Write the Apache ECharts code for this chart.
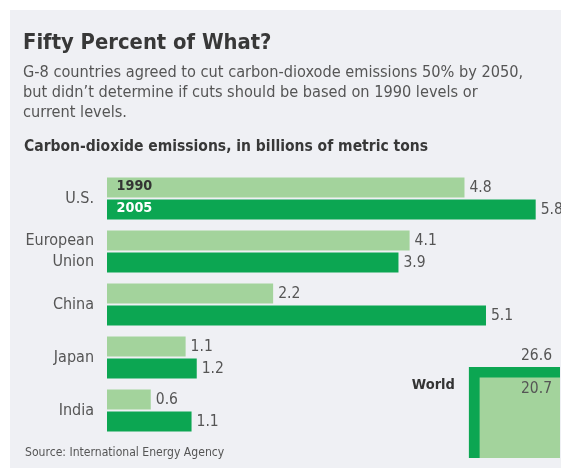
<!DOCTYPE html>
<html>
<head>
<meta charset="utf-8">
<script src="https://cdn.jsdelivr.net/npm/echarts@6/dist/echarts.min.js"></script>
<style>
  html, body { margin: 0; padding: 0; background: #ffffff; }
  #chart { width: 561px; height: 468px; }
</style>
</head>
<body>
<div id="chart"></div>
<script>
// ---- data ----
const titleText = 'Fifty Percent of What?';
const subtitleLines = [
  'G-8 countries agreed to cut carbon-dioxode emissions 50% by 2050,',
  'but didn\u2019t determine if cuts should be based on 1990 levels or',
  'current levels.'
];
const headerText = 'Carbon-dioxide emissions, in billions of metric tons';
const sourceText = 'Source: International Energy Agency';

const categories = ['U.S.', 'European\nUnion', 'China', 'Japan', 'India'];
const seriesNames = ['1990', '2005'];
const values1990 = [4.82, 4.08, 2.24, 1.06, 0.59];
const values2005 = [5.78, 3.93, 5.11, 1.21, 1.14];

const worldLabel = 'World';
const worldNames = ['2005', '1990'];
const worldValues = [26.6, 20.7];

// ---- styles ----
const FONT = '"DejaVu Sans Condensed", "DejaVu Sans", sans-serif';
const LIGHT = '#a3d39c';
const DARK = '#0ca652';
const PANEL = '#eff0f4';

const chart = echarts.init(document.getElementById('chart'), null, { renderer: 'canvas' });

const valueLabel = {
  show: true,
  position: 'right',
  distance: 5,
  fontFamily: FONT,
  fontSize: 15.5,
  color: '#555',
  formatter: p => p.value.toFixed(1)
};

const option = {
  backgroundColor: '#ffffff',
  animation: false,
  graphic: [
    { type: 'rect', left: 10, top: 10, z: -10, shape: { width: 551, height: 458 }, style: { fill: PANEL } },
    { type: 'text', left: 23, top: 43.4 - 14, style: { text: titleText, font: 'bold 21.8px ' + FONT, fill: '#383838', lineHeight: 28 } },
    { type: 'text', left: 23, top: 62.5, style: { text: subtitleLines.join('\n'), font: '16.2px ' + FONT, fill: '#555', lineHeight: 20.3 } },
    { type: 'text', left: 24, top: 147 - 10, style: { text: headerText, font: 'bold 15.5px ' + FONT, fill: '#383838', lineHeight: 20 } },
    { type: 'text', left: 25, top: 453 - 8, style: { text: sourceText, font: '12.1px ' + FONT, fill: '#555', lineHeight: 16 } }
  ],
  legend: {
    orient: 'vertical',
    left: 111.5,
    top: 178,
    padding: 0,
    itemWidth: 0,
    itemHeight: 16,
    itemGap: 6,
    icon: 'none',
    selectedMode: false,
    textStyle: { fontFamily: FONT, fontSize: 14.3, fontWeight: 'bold', lineHeight: 16 },
    data: [
      { name: seriesNames[0], textStyle: { color: '#333' } },
      { name: seriesNames[1], textStyle: { color: '#ffffff' } }
    ],
    z: 10
  },
  grid: [
    { left: 107, right: 9, top: 172, height: 265, containLabel: false },
    { right: 1, bottom: 10, width: 106, height: 106 }
  ],
  xAxis: [
    { type: 'value', gridIndex: 0, min: 0, max: 6, show: false },
    { type: 'value', gridIndex: 1, min: 0, max: 6, inverse: true, show: false }
  ],
  yAxis: [
    {
      type: 'category', gridIndex: 0, data: categories, inverse: true,
      axisLine: { show: false }, axisTick: { show: false }, splitLine: { show: false },
      axisLabel: { fontFamily: FONT, fontSize: 16, color: '#555', margin: 13, lineHeight: 21, align: 'right' }
    },
    { type: 'value', gridIndex: 1, min: 0, max: 6, show: false }
  ],
  series: [
    {
      name: seriesNames[0], type: 'bar', xAxisIndex: 0, yAxisIndex: 0,
      data: values1990, barWidth: 20, barGap: '10%',
      itemStyle: { color: LIGHT },
      label: valueLabel
    },
    {
      name: seriesNames[1], type: 'bar', xAxisIndex: 0, yAxisIndex: 0,
      data: values2005, barWidth: 20, barGap: '10%',
      itemStyle: { color: DARK },
      label: valueLabel
    },
    {
      name: worldLabel, type: 'custom', xAxisIndex: 1, yAxisIndex: 1,
      coordinateSystem: 'cartesian2d', clip: false,
      data: worldValues.map((v, i) => ({ name: worldNames[i], value: [v] })),
      renderItem: function (params, api) {
        const v = api.value(0);
        const r = Math.sqrt(v);
        const br = api.coord([0, 0]);
        const tl = api.coord([r, r]);
        const outer = params.dataIndex === 0;
        const children = [
          { type: 'rect', shape: { x: tl[0], y: tl[1], width: br[0] - tl[0], height: br[1] - tl[1] },
            style: { fill: outer ? DARK : LIGHT } },
          { type: 'text', style: { text: v.toFixed(1), x: br[0] - 8, y: outer ? tl[1] - 11 : tl[1] + 11.5,
            align: 'right', verticalAlign: 'middle', font: '15.5px ' + FONT, fill: '#555' } }
        ];
        if (outer) {
          children.push({ type: 'text', style: { text: worldLabel, x: tl[0] - 14, y: tl[1] + 18,
            align: 'right', verticalAlign: 'middle', font: 'bold 14.5px ' + FONT, fill: '#333' } });
        }
        return { type: 'group', children: children };
      }
    }
  ]
};

chart.setOption(option);
</script>
</body>
</html>
